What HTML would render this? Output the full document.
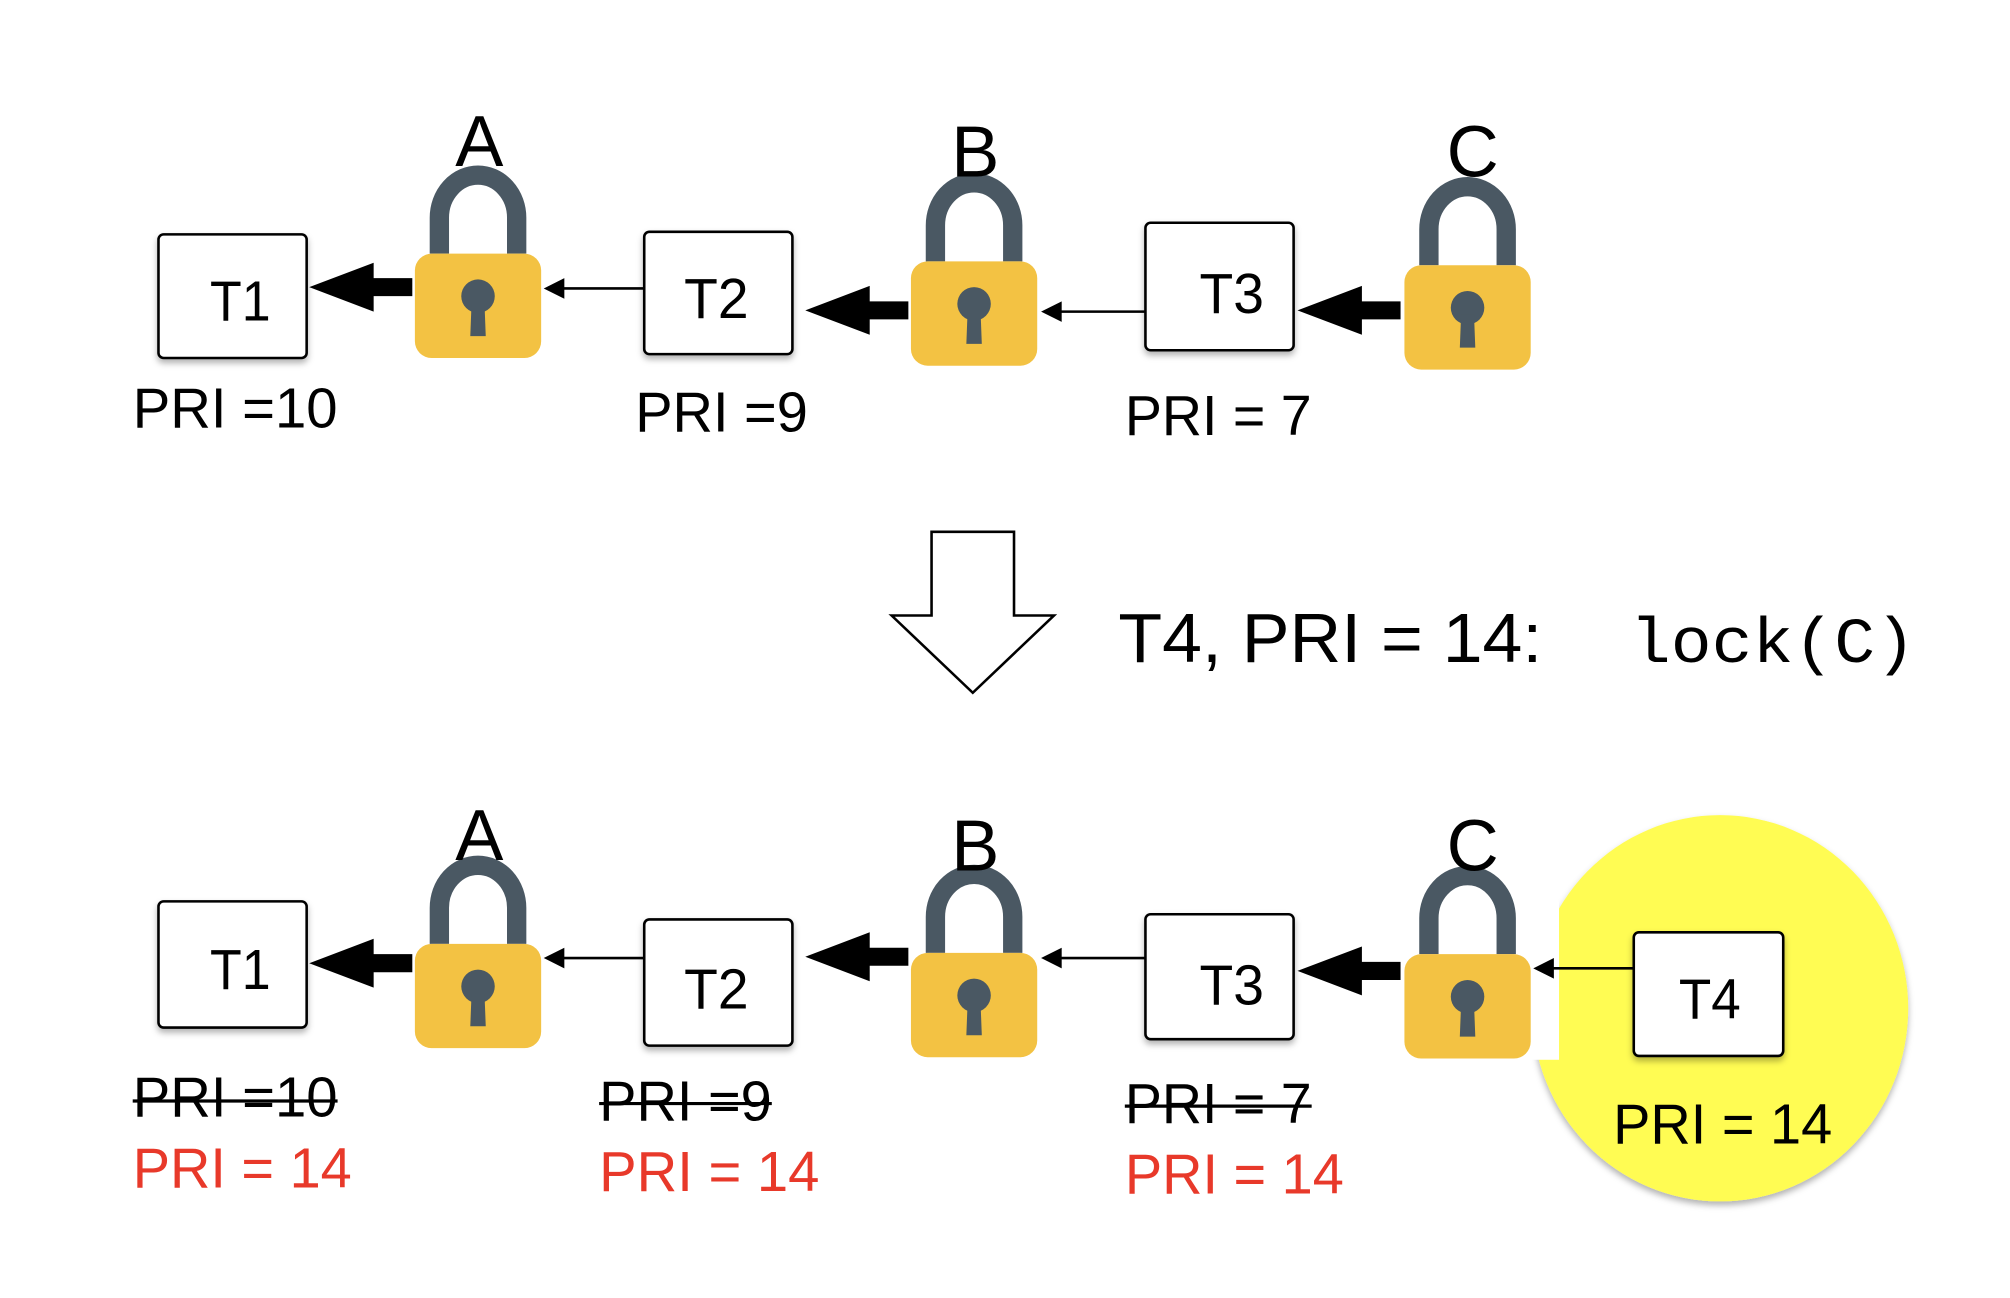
<!DOCTYPE html>
<html><head><meta charset="utf-8"><style>
html,body{margin:0;padding:0;background:#fff;}
svg{display:block;}
text{font-family:"Liberation Sans",sans-serif;}
</style></head><body>
<svg width="2010" height="1298" viewBox="0 0 1560 1008" preserveAspectRatio="none" xmlns="http://www.w3.org/2000/svg">
<defs>
<filter id="sh" x="-20%" y="-20%" width="140%" height="150%"><feDropShadow dx="0" dy="3" stdDeviation="2.5" flood-color="#000" flood-opacity="0.3"/></filter>
<g id="lock">
<path d="M-30,0 V-28 A30,33 0 0 1 30,-28 V0" fill="none" stroke="#4A5863" stroke-width="15"/>
<rect x="-49" y="0" width="98" height="81" rx="13" fill="#F3C243"/>
<circle cx="0" cy="33" r="13" fill="#4A5863"/>
<path d="M-5,38 L5,38 L6,64 L-6,64 Z" fill="#4A5863"/>
</g>
<g id="thick"><polygon points="0,0 50,-19 50,-7 80,-7 80,7 50,7 50,19" fill="#000"/></g>
<g id="thin"><polygon points="0,0 16,-8 16,8" fill="#000"/></g>
</defs>

<!-- TOP ROW -->
<rect x="123" y="182" width="115" height="96" rx="4" fill="#fff" stroke="#000" stroke-width="2" filter="url(#sh)"/>
<text x="163" y="249" font-size="44" textLength="47" lengthAdjust="spacingAndGlyphs">T1</text>
<rect x="500" y="180" width="115" height="95" rx="4" fill="#fff" stroke="#000" stroke-width="2" filter="url(#sh)"/>
<text x="531" y="247" font-size="44" textLength="50" lengthAdjust="spacingAndGlyphs">T2</text>
<rect x="889" y="173" width="115" height="99" rx="4" fill="#fff" stroke="#000" stroke-width="2" filter="url(#sh)"/>
<text x="931" y="243" font-size="44" textLength="50" lengthAdjust="spacingAndGlyphs">T3</text>

<use href="#lock" x="371" y="197"/>
<use href="#lock" x="756" y="203"/>
<use href="#lock" x="1139" y="206"/>
<text x="372" y="129" font-size="56" text-anchor="middle">A</text>
<text x="757" y="137" font-size="56" text-anchor="middle">B</text>
<text x="1143" y="137" font-size="56" text-anchor="middle">C</text>

<use href="#thick" x="240" y="223"/>
<use href="#thick" x="625" y="241"/>
<use href="#thick" x="1007" y="241"/>
<line x1="432" y1="224" x2="500" y2="224" stroke="#000" stroke-width="2"/><use href="#thin" x="422" y="224"/>
<line x1="818" y1="242" x2="889" y2="242" stroke="#000" stroke-width="2"/><use href="#thin" x="808" y="242"/>

<text x="103" y="332" font-size="44" textLength="159" lengthAdjust="spacingAndGlyphs">PRI =10</text>
<text x="493" y="335" font-size="44" textLength="134" lengthAdjust="spacingAndGlyphs">PRI =9</text>
<text x="873" y="338" font-size="44" textLength="145" lengthAdjust="spacingAndGlyphs">PRI = 7</text>

<!-- MIDDLE -->
<polygon points="723,413 787,413 787,478 818,478 755,538 692,478 723,478" fill="#fff" stroke="#000" stroke-width="2"/>
<text x="868" y="514" font-size="54" textLength="329" lengthAdjust="spacingAndGlyphs">T4, PRI = 14:</text>
<text x="1265" y="514" font-size="50" font-family="Liberation Mono, monospace" textLength="222" lengthAdjust="spacingAndGlyphs" style="font-family:'Liberation Mono',monospace">lock(C)</text>

<!-- BOTTOM ROW -->
<ellipse cx="1335" cy="783" rx="146" ry="150" fill="#FFFC52" filter="url(#sh)"/>
<rect x="1185" y="700" width="25" height="123" fill="#fff"/>

<rect x="123" y="700" width="115" height="98" rx="4" fill="#fff" stroke="#000" stroke-width="2" filter="url(#sh)"/>
<text x="163" y="768" font-size="44" textLength="47" lengthAdjust="spacingAndGlyphs">T1</text>
<rect x="500" y="714" width="115" height="98" rx="4" fill="#fff" stroke="#000" stroke-width="2" filter="url(#sh)"/>
<text x="531" y="783" font-size="44" textLength="50" lengthAdjust="spacingAndGlyphs">T2</text>
<rect x="889" y="710" width="115" height="97" rx="4" fill="#fff" stroke="#000" stroke-width="2" filter="url(#sh)"/>
<text x="931" y="780" font-size="44" textLength="50" lengthAdjust="spacingAndGlyphs">T3</text>
<rect x="1268" y="724" width="116" height="96" rx="4" fill="#fff" stroke="#000" stroke-width="2" filter="url(#sh)"/>
<text x="1303" y="791" font-size="44" textLength="48" lengthAdjust="spacingAndGlyphs">T4</text>

<use href="#lock" x="371" y="733"/>
<use href="#lock" x="756" y="740"/>
<use href="#lock" x="1139" y="741"/>
<text x="372" y="668" font-size="56" text-anchor="middle">A</text>
<text x="757" y="676" font-size="56" text-anchor="middle">B</text>
<text x="1143" y="676" font-size="56" text-anchor="middle">C</text>

<use href="#thick" x="240" y="748"/>
<use href="#thick" x="625" y="743"/>
<use href="#thick" x="1007" y="754"/>
<line x1="432" y1="744" x2="500" y2="744" stroke="#000" stroke-width="2"/><use href="#thin" x="422" y="744"/>
<line x1="818" y1="744" x2="889" y2="744" stroke="#000" stroke-width="2"/><use href="#thin" x="808" y="744"/>
<line x1="1200" y1="752" x2="1268" y2="752" stroke="#000" stroke-width="2"/><use href="#thin" x="1190" y="752"/>

<text x="103" y="867" font-size="44" textLength="159" lengthAdjust="spacingAndGlyphs">PRI =10</text>
<line x1="103" y1="855" x2="262" y2="855" stroke="#000" stroke-width="2.5"/>
<text x="465" y="870" font-size="44" textLength="134" lengthAdjust="spacingAndGlyphs">PRI =9</text>
<line x1="465" y1="857" x2="599" y2="857" stroke="#000" stroke-width="2.5"/>
<text x="873" y="872" font-size="44" textLength="145" lengthAdjust="spacingAndGlyphs">PRI = 7</text>
<line x1="873" y1="859" x2="1018" y2="859" stroke="#000" stroke-width="2.5"/>

<text x="103" y="922" font-size="44" fill="#E8392A" textLength="170" lengthAdjust="spacingAndGlyphs">PRI = 14</text>
<text x="465" y="925" font-size="44" fill="#E8392A" textLength="171" lengthAdjust="spacingAndGlyphs">PRI = 14</text>
<text x="873" y="927" font-size="44" fill="#E8392A" textLength="170" lengthAdjust="spacingAndGlyphs">PRI = 14</text>
<text x="1252" y="888" font-size="44" textLength="170" lengthAdjust="spacingAndGlyphs">PRI = 14</text>
</svg>
</body></html>
